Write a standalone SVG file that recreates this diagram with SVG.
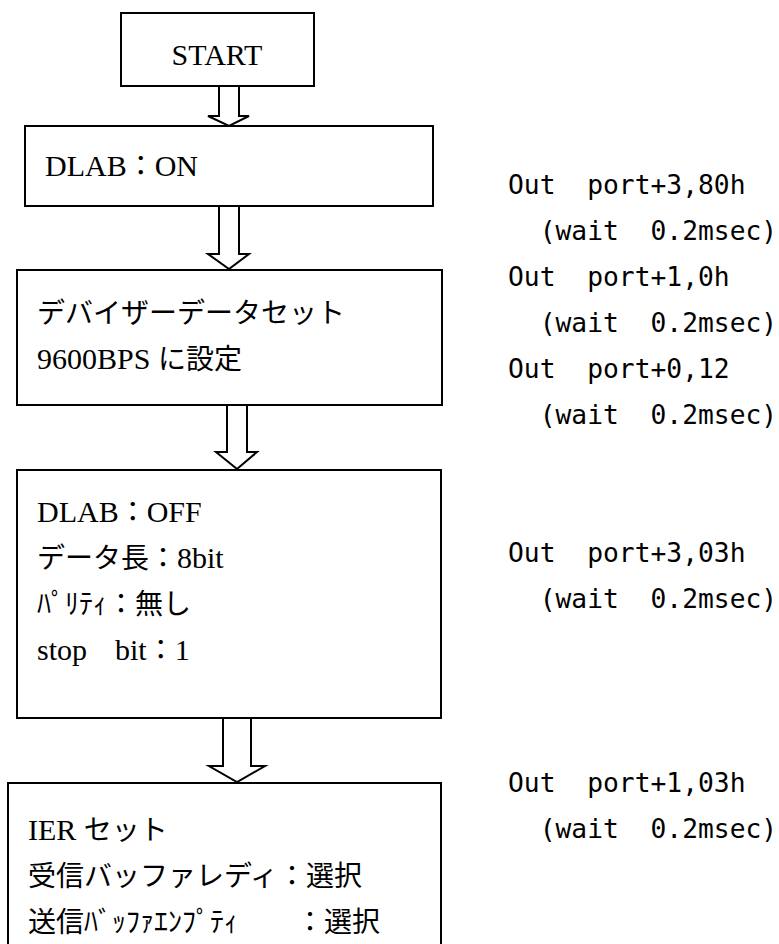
<svg xmlns="http://www.w3.org/2000/svg" width="779" height="944" viewBox="0 0 779 944">
<style>
.box{fill:#fff;stroke:#000;stroke-width:2}
.arr{fill:#fff;stroke:#000;stroke-width:2;stroke-linejoin:miter}
.t{font-family:"Liberation Serif","Noto Sans CJK JP",serif;font-size:30px;fill:#000}
.j{font-family:"Noto Sans CJK JP",sans-serif;font-size:28px}
.m{font-family:"DejaVu Sans Mono","Liberation Mono",monospace;font-size:26.3px;fill:#000}
</style>
<rect width="779" height="944" fill="#fff"/>
<g id="connectors">
<path class="arr" d="M219,86 V116 H208 L229,126 L249,116 H239 V86"/>
<path class="arr" d="M219,206 V254 H208 L229,269 L249,254 H239 V206"/>
<path class="arr" d="M227,405 V452 H216 L237,469 L257,452 H247 V405"/>
<path class="arr" d="M223,718 V766 H209 L237,782 L265,766 H251 V718"/>
</g>
<g id="start">
<rect class="box" x="121" y="13" width="193" height="73"/>
<text class="t" x="217" y="65" text-anchor="middle">START</text>
</g>
<g id="dlab-on">
<rect class="box" x="25" y="126" width="408" height="80"/>
<text class="t" x="45" y="176">DLAB<tspan class="j">：</tspan>ON</text>
</g>
<g id="divisor">
<rect class="box" x="17" y="270" width="425" height="135"/>
<text class="t" x="37" y="323"><tspan class="j">デバイザーデータセット</tspan></text>
<text class="t" x="37" y="369">9600BPS <tspan class="j">に設定</tspan></text>
</g>
<g id="dlab-off">
<rect class="box" x="17" y="470" width="424" height="248"/>
<text class="t" x="37" y="522">DLAB<tspan class="j">：</tspan>OFF</text>
<text class="t" x="37" y="568"><tspan class="j">データ長：</tspan>8bit</text>
<text class="t" x="37" y="614"><tspan class="j">ﾊﾟﾘﾃｨ：無し</tspan></text>
<text class="t" x="37" y="660">stop<tspan class="j">　</tspan>bit<tspan class="j">：</tspan>1</text>
</g>
<g id="ier">
<rect class="box" x="8" y="783" width="433" height="170"/>
<text class="t" x="28" y="840">IER <tspan class="j">セット</tspan></text>
<text class="t" x="28" y="886"><tspan class="j">受信バッファレディ：選択</tspan></text>
<text class="t" x="28" y="932"><tspan class="j">送信ﾊﾞｯﾌｧｴﾝﾌﾟﾃｨ</tspan><tspan class="j" x="296">：選択</tspan></text>
</g>
<g id="code">
<text class="m" x="508" y="194" xml:space="preserve">Out  port+3,80h</text>
<text class="m" x="508" y="240" xml:space="preserve">  (wait  0.2msec)</text>
<text class="m" x="508" y="286" xml:space="preserve">Out  port+1,0h</text>
<text class="m" x="508" y="332" xml:space="preserve">  (wait  0.2msec)</text>
<text class="m" x="508" y="378" xml:space="preserve">Out  port+0,12</text>
<text class="m" x="508" y="424" xml:space="preserve">  (wait  0.2msec)</text>
<text class="m" x="508" y="562" xml:space="preserve">Out  port+3,03h</text>
<text class="m" x="508" y="608" xml:space="preserve">  (wait  0.2msec)</text>
<text class="m" x="508" y="792" xml:space="preserve">Out  port+1,03h</text>
<text class="m" x="508" y="838" xml:space="preserve">  (wait  0.2msec)</text>
</g>
</svg>
